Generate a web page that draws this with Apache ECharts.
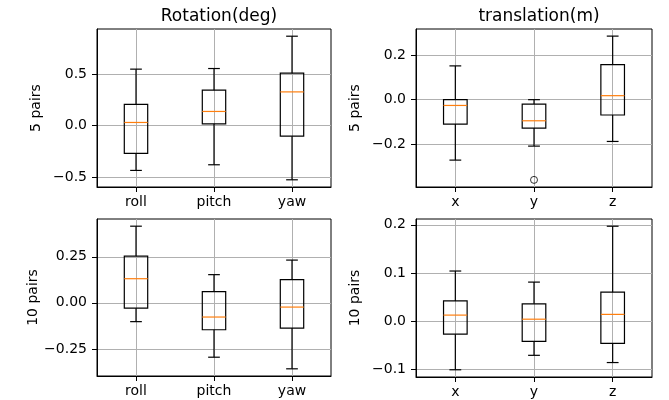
<!DOCTYPE html>
<html>
<head>
<meta charset="utf-8">
<script src="https://cdn.jsdelivr.net/npm/echarts@6/dist/echarts.min.js"></script>
<style>
  html, body { margin: 0; padding: 0; background: #fff; }
  #chart { width: 669px; height: 400px; }
</style>
</head>
<body>
<div id="chart"></div>
<script>
// categories
const rotCats = ['roll', 'pitch', 'yaw'];
const transCats = ['x', 'y', 'z'];

// box stats: [low whisker, Q1, median, Q3, high whisker]
const rot5 = [
  [-0.437, -0.272, 0.029, 0.204, 0.547],
  [-0.382, 0.016, 0.136, 0.343, 0.553],
  [-0.528, -0.104, 0.326, 0.508, 0.867]
];
const trans5 = [
  [-0.272, -0.110, -0.026, 0.000, 0.152],
  [-0.209, -0.128, -0.095, -0.020, 0.000],
  [-0.188, -0.069, 0.018, 0.158, 0.286]
];
const trans5Fliers = [[2, -0.361]];
const rot10 = [
  [-0.102, -0.029, 0.131, 0.254, 0.416],
  [-0.295, -0.146, -0.077, 0.061, 0.153],
  [-0.358, -0.137, -0.023, 0.126, 0.232]
];
const trans10 = [
  [-0.101, -0.027, 0.0125, 0.042, 0.104],
  [-0.071, -0.042, 0.004, 0.036, 0.081],
  [-0.086, -0.046, 0.014, 0.060, 0.197]
];

// tick labels and axis limits
const rotTicks5 = [-0.5, 0, 0.5];
const transTicks5 = [-0.2, 0, 0.2];
const rotTicks10 = [-0.25, 0, 0.25];
const transTicks10 = [-0.1, 0, 0.1, 0.2];
const rotLim5 = [-0.598, 0.937];
const transLim5 = [-0.393, 0.318];
const rotLim10 = [-0.397, 0.455];
const transLim10 = [-0.116, 0.212];

const FONT = 'DejaVu Sans';
const minus = s => s.replace('-', '\u2212');

function boxRender(params, api) {
  const x = api.value(0);
  const lo = api.coord([x, api.value(1)]);
  const q1 = api.coord([x, api.value(2)]);
  const md = api.coord([x, api.value(3)]);
  const q3 = api.coord([x, api.value(4)]);
  const hi = api.coord([x, api.value(5)]);
  const w = api.size([0.3, 0])[0];
  const cx = lo[0];
  const st = { stroke: '#000', lineWidth: 1.2, fill: null };
  const ln = (x1, y1, x2, y2, s) => ({ type: 'line', shape: { x1, y1, x2, y2 }, style: s || st });
  return {
    type: 'group',
    children: [
      ln(cx, lo[1], cx, q1[1]),
      ln(cx, q3[1], cx, hi[1]),
      ln(cx - w / 4, lo[1], cx + w / 4, lo[1]),
      ln(cx - w / 4, hi[1], cx + w / 4, hi[1]),
      { type: 'rect', shape: { x: cx - w / 2, y: q3[1], width: w, height: q1[1] - q3[1] }, style: st },
      ln(cx - w / 2, md[1], cx + w / 2, md[1], { stroke: '#ff7f0e', lineWidth: 1.2 })
    ]
  };
}

const grids = [
  { left: 97, top: 29, width: 234, height: 158 },
  { left: 416, top: 29, width: 236, height: 158 },
  { left: 97, top: 219, width: 234, height: 157 },
  { left: 416, top: 219, width: 236, height: 158 }
];

const panels = [
  { cats: rotCats, data: rot5, ticks: rotTicks5, lim: rotLim5, dec: 1, name: '5 pairs' },
  { cats: transCats, data: trans5, ticks: transTicks5, lim: transLim5, dec: 1, name: '5 pairs' },
  { cats: rotCats, data: rot10, ticks: rotTicks10, lim: rotLim10, dec: 2, name: '10 pairs' },
  { cats: transCats, data: trans10, ticks: transTicks10, lim: transLim10, dec: 1, name: '10 pairs' }
];

const labelStyle = { color: '#000', fontFamily: FONT, fontSize: 14 };
const gridLine = { show: true, lineStyle: { color: '#b0b0b0', width: 1 } };

let myChart = echarts.init(document.getElementById('chart'));

let option = {
  animation: false,
  title: [
    { text: 'Rotation(deg)', left: 214, top: 3, textAlign: 'center',
      textStyle: { fontFamily: FONT, fontSize: 17, fontWeight: 'normal', color: '#000' } },
    { text: 'translation(m)', left: 534, top: 3, textAlign: 'center',
      textStyle: { fontFamily: FONT, fontSize: 17, fontWeight: 'normal', color: '#000' } }
  ],
  grid: grids.map(g => Object.assign({ show: true, borderColor: '#000', borderWidth: 1, containLabel: false }, g)),
  xAxis: panels.map((p, i) => ({
    type: 'value',
    gridIndex: i,
    min: 0.5,
    max: 3.5,
    axisLine: { onZero: false, lineStyle: { color: '#000', width: 1 } },
    axisTick: { show: true, length: 5, customValues: [1, 2, 3], lineStyle: { color: '#000' } },
    axisLabel: Object.assign({ margin: 8, customValues: [1, 2, 3],
      formatter: v => p.cats[Math.round(v) - 1] }, labelStyle),
    splitLine: gridLine
  })),
  yAxis: panels.map((p, i) => ({
    type: 'value',
    gridIndex: i,
    min: p.lim[0],
    max: p.lim[1],
    name: p.name,
    nameLocation: 'middle',
    nameGap: 54,
    nameTextStyle: { color: '#000', fontFamily: FONT, fontSize: 14 },
    axisLine: { show: true, onZero: false, lineStyle: { color: '#000', width: 1 } },
    axisTick: { show: true, length: 5, customValues: p.ticks, lineStyle: { color: '#000' } },
    axisLabel: Object.assign({ margin: 10, customValues: p.ticks,
      formatter: v => minus(v.toFixed(p.dec)) }, labelStyle),
    splitLine: gridLine
  })),
  series: panels.map((p, i) => ({
    type: 'custom',
    xAxisIndex: i,
    yAxisIndex: i,
    renderItem: boxRender,
    encode: { x: 0, y: [1, 2, 3, 4, 5] },
    data: p.data.map((d, k) => [k + 1].concat(d)),
    z: 5
  })).concat([{
    type: 'scatter',
    xAxisIndex: 1,
    yAxisIndex: 1,
    symbol: 'circle',
    symbolSize: 7,
    itemStyle: { color: 'rgba(255,255,255,0)', borderColor: '#000', borderWidth: 1 },
    data: trans5Fliers,
    z: 5
  }])
};

myChart.setOption(option);
</script>
</body>
</html>
